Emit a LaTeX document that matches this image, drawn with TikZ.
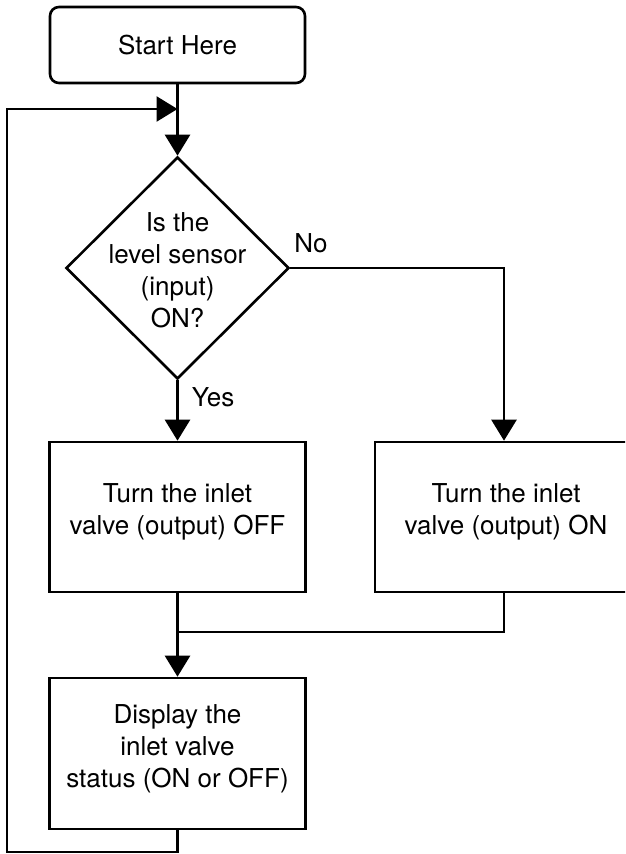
\documentclass[tikz,border=0pt]{standalone}
\usepackage{fontspec}
\setmainfont{TeX Gyre Heros}
\usetikzlibrary{shapes.geometric,arrows.meta}
\begin{document}
\begin{tikzpicture}[x=1pt,y=-1pt,
  line width=2.6pt,
  every node/.style={font=\fontsize{26}{32}\selectfont, align=center, inner sep=0pt},
  procbox/.style={draw, rectangle, minimum width=256pt, minimum height=150pt},
  startbox/.style={draw, rectangle, rounded corners=9pt, minimum width=255pt, minimum height=76pt},
  arr/.style={-{Triangle[length=21pt,width=25pt]}},
  lbl/.style={font=\fontsize{26}{30}\selectfont}]
\useasboundingbox (0,0) rectangle (625,854);
\clip (0,0) rectangle (625,854);
\node[startbox] (start) at (177.5,45) {Start Here};
\node[diamond, draw, minimum width=223pt, minimum height=222pt, aspect=1] (dia) at (177.5,268) {};
\node at (177.5,270) {Is the\\level sensor\\(input)\\ON?};
\node[procbox] (lbox) at (177.5,517) {};
\node at (177.5,512) {Turn the inlet\\valve (output) OFF};
\node[procbox, minimum width=258pt] (rbox) at (504,517) {};
\node at (506,512) {Turn the inlet\\valve (output) ON};
\node[procbox, minimum height=151pt] (bbox) at (177.5,753.5) {};
\node at (177.5,748.5) {Display the\\inlet valve\\status (ON or OFF)};
\node[lbl] (no) at (311,243) {No};
\node[lbl] (yes) at (213,397) {Yes};
\coordinate (j) at (177.5,632);
\coordinate (lb) at (177.5,852);
\coordinate (lc) at (7,852);
\coordinate (lt) at (7,109);
\coordinate (le) at (177.5,109);
\draw[arr] (start.south) -- (dia.north);
\draw[arr] (dia.south) -- (lbox.north);
\draw[arr] (dia.east) -| (rbox.north);
\draw (rbox.south) |- (j);
\draw[arr] (lbox.south) -- (bbox.north);
\draw[arr] (bbox.south) -- (lb) -- (lc) -- (lt) -- (le);
\end{tikzpicture}
\end{document}
